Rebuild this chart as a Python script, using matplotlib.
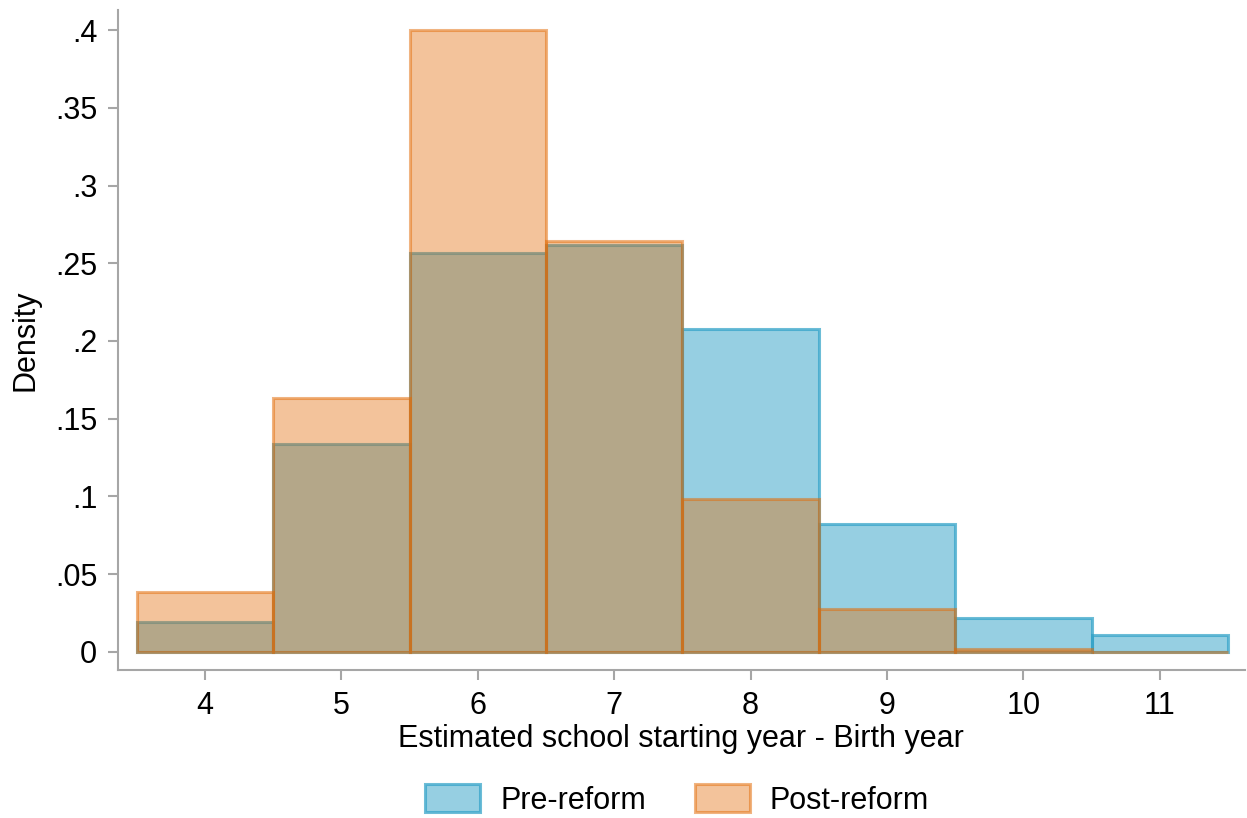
import matplotlib
matplotlib.use("Agg")
import matplotlib.pyplot as plt
from matplotlib.patches import Patch

plt.rcParams['font.family'] = ['Liberation Sans', 'DejaVu Sans']

# Histogram bins (integer values, unit width) and densities
bins = [4, 5, 6, 7, 8, 9, 10, 11]
pre_reform = [0.019, 0.134, 0.2565, 0.262, 0.2075, 0.082, 0.022, 0.011]
post_reform = [0.0385, 0.163, 0.400, 0.2645, 0.0985, 0.0275, 0.002, 0.0]

y_ticks = [0, 0.05, 0.1, 0.15, 0.2, 0.25, 0.3, 0.35, 0.4]
y_tick_labels = ["0", ".05", ".1", ".15", ".2", ".25", ".3", ".35", ".4"]

blue_rgb = (47 / 255, 161 / 255, 199 / 255)
orange_rgb = (227 / 255, 107 / 255, 5 / 255)
blue_fill = blue_rgb + (0.5,)
blue_edge = blue_rgb + (0.7,)
orange_fill = orange_rgb + (0.4,)
orange_edge = orange_rgb + (0.5,)
spine_gray = "#A6A6A6"
font_size = 22

fig = plt.figure(figsize=(12.47, 8.18), dpi=100)
ax = fig.add_axes([0.0946, 0.181, 0.9034, 0.8068])

ax.bar(bins, pre_reform, width=1.0, align="center",
       facecolor=blue_fill, edgecolor=blue_edge, linewidth=2.2)
ax.bar(bins, post_reform, width=1.0, align="center",
       facecolor=orange_fill, edgecolor=orange_edge, linewidth=2.2)

ax.set_xlim(3.363, 11.62)
ax.set_ylim(-0.0116, 0.4129)
ax.set_xticks(bins)
ax.set_yticks(y_ticks)
ax.set_yticklabels(y_tick_labels)

for side in ("top", "right"):
    ax.spines[side].set_visible(False)
for side in ("left", "bottom"):
    ax.spines[side].set_color(spine_gray)
    ax.spines[side].set_linewidth(1.5)

ax.tick_params(axis="both", direction="out", length=7, width=1.5,
               color=spine_gray, labelsize=font_size)
ax.tick_params(axis="x", pad=8)
ax.tick_params(axis="y", pad=8)

ax.set_xlabel("Estimated school starting year - Birth year", fontsize=font_size, labelpad=2)
ax.set_ylabel("Density", fontsize=font_size, labelpad=10)

handles = [
    Patch(facecolor=blue_fill, edgecolor=blue_edge, linewidth=2.2, label="Pre-reform"),
    Patch(facecolor=orange_fill, edgecolor=orange_edge, linewidth=2.2, label="Post-reform"),
]
fig.legend(handles=handles, loc="center", bbox_to_anchor=(0.543, 0.022),
           ncol=2, frameon=False, fontsize=font_size, handlelength=1.8, handleheight=1.0,
           columnspacing=1.6, handletextpad=0.65, borderpad=0.0)

fig.savefig("out.png", dpi=100, facecolor="white")
